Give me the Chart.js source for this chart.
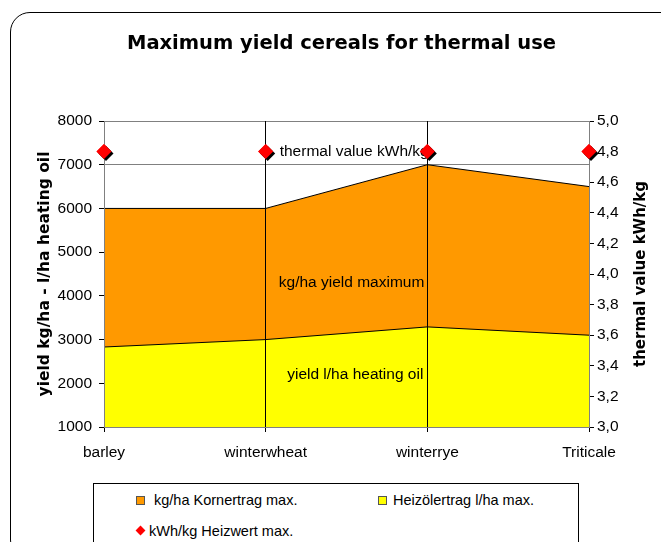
<!DOCTYPE html>
<html>
<head>
<meta charset="utf-8">
<script src="https://cdn.jsdelivr.net/npm/chart.js@4.4.1/dist/chart.umd.min.js"></script>
<style>
html,body{margin:0;padding:0;background:#fff;overflow:hidden;width:661px;height:542px;}
#wrap{position:relative;width:661px;height:542px;overflow:hidden;background:#fff;}
#c{position:absolute;left:0;top:0;z-index:1;}
#frame{position:absolute;left:10px;top:12px;width:720px;height:548px;border:1px solid #000;border-radius:20px;box-sizing:border-box;z-index:5;pointer-events:none;}
#legend{position:absolute;left:93px;top:483px;width:486px;height:70px;border:1px solid #000;box-sizing:border-box;font-family:'Liberation Sans',Arial,sans-serif;font-size:14.5px;color:#000;background:#fff;z-index:2;}
.txt{position:absolute;white-space:nowrap;line-height:18px;height:18px;}
.sw{position:absolute;width:9px;height:9px;border:1px solid #555;box-sizing:border-box;}
.dm{position:absolute;width:7px;height:7px;background:#FF0000;transform:rotate(45deg);}
</style>
</head>
<body>
<div id="wrap">
  <canvas id="c" width="661" height="542"></canvas>
  <div id="legend"></div>
  <div id="frame"></div>
</div>
<script>
// ---- data ----
const categories = ['barley', 'winterwheat', 'winterrye', 'Triticale'];
const kornertrag = [6000, 6000, 7000, 6500];      // kg/ha Kornertrag max.
const heizoel    = [2830, 3000, 3290, 3100];      // Heizölertrag l/ha max.
const heizwert   = [4.8, 4.8, 4.8, 4.8];          // kWh/kg Heizwert max.
const seriesNames = ['kg/ha Kornertrag max.', 'Heizölertrag l/ha max.', 'kWh/kg Heizwert max.'];
const rightTickLabels = ['3,0','3,2','3,4','3,6','3,8','4,0','4,2','4,4','4,6','4,8','5,0'];
const chartTitle = 'Maximum yield cereals for thermal use';
const leftTitle = 'yield kg/ha - l/ha heating oil';
const rightTitle = 'thermal value kWh/kg';
const annotations = [
  {text: 'thermal value kWh/kg', cat: 1, axis: 'y2', value: 4.8, dx: 14, align: 'left'},
  {text: 'kg/ha yield maximum', cat: 2, axis: 'y', value: 4300, dx: -3, align: 'right'},
  {text: 'yield l/ha heating oil', cat: 2, axis: 'y', value: 2200, dx: -4, align: 'right'}
];

const FONT = "'Liberation Sans', Arial, sans-serif";
const BFONT = "'DejaVu Sans', Verdana, sans-serif";
const ORANGE = '#FF9900', YELLOW = '#FFFF00', RED = '#FF0000';

const overlay = {
  id: 'overlay',
  afterDraw(chart) {
    const ctx = chart.ctx;
    const xs = chart.scales.x;
    ctx.save();
    ctx.fillStyle = '#000';
    ctx.font = '15.5px ' + FONT;
    ctx.textBaseline = 'middle';
    annotations.forEach(a => {
      ctx.textAlign = a.align;
      ctx.fillText(a.text, xs.getPixelForValue(a.cat) + a.dx, chart.scales[a.axis].getPixelForValue(a.value));
    });
    ctx.restore();
    // right axis title (reads bottom to top)
    const ca = chart.chartArea;
    const y2 = chart.scales.y2;
    ctx.save();
    ctx.translate(y2.right - 20, (ca.top + ca.bottom) / 2);
    ctx.rotate(-Math.PI / 2);
    ctx.textAlign = 'center';
    ctx.textBaseline = 'middle';
    ctx.font = 'bold 15px ' + BFONT;
    ctx.fillStyle = '#000';
    ctx.fillText(rightTitle, 0, 0);
    ctx.restore();
    // redraw diamonds on top of the grid with a shadow
    const meta = chart.getDatasetMeta(0);
    ctx.save();
    ctx.shadowColor = '#000';
    ctx.shadowOffsetX = 2;
    ctx.shadowOffsetY = 2;
    ctx.shadowBlur = 0;
    meta.controller.draw();
    ctx.restore();
  }
};

const chart = new Chart(document.getElementById('c'), {
  type: 'line',
  data: {
    labels: categories,
    datasets: [
      {label: seriesNames[2], data: heizwert, yAxisID: 'y2', showLine: false,
       pointStyle: 'rectRot', pointRadius: 7.5, pointHoverRadius: 7.5,
       backgroundColor: RED, borderColor: RED, pointBorderWidth: 0, clip: false, order: 0},
      {label: seriesNames[1], data: heizoel, yAxisID: 'y', fill: 'start',
       backgroundColor: YELLOW, borderColor: '#000', borderWidth: 1, pointRadius: 0, tension: 0, order: 1},
      {label: seriesNames[0], data: kornertrag, yAxisID: 'y', fill: 'start',
       backgroundColor: ORANGE, borderColor: '#000', borderWidth: 1, pointRadius: 0, tension: 0, order: 2}
    ]
  },
  options: {
    responsive: false,
    animation: false,
    events: [],
    layout: {padding: {left: 22, right: 0, top: 0, bottom: 75}},
    plugins: {
      legend: {display: false},
      tooltip: {enabled: false},
      title: {display: true, text: chartTitle, color: '#000',
              font: {family: BFONT, size: 19.5, weight: 'bold'},
              padding: {top: 32, bottom: 65.6}}
    },
    scales: {
      x: {
        offset: false,
        grid: {
          z: 1,
          color: c => (c.index === 0 || c.index === categories.length - 1) ? '#808080' : '#000',
          tickColor: '#000',
          tickLength: 5
        },
        border: {color: '#808080', z: 1},
        ticks: {color: '#000', font: {family: FONT, size: 15.5}, padding: 11, maxRotation: 0, autoSkip: false},
        afterFit: s => { s.height = 40; }
      },
      y: {
        position: 'left', min: 1000, max: 8000,
        ticks: {stepSize: 1000, color: '#000', font: {family: FONT, size: 15.5}, padding: 7,
                callback: v => String(v)},
        grid: {color: '#808080', tickColor: '#000', tickLength: 5},
        border: {color: '#808080'},
        title: {display: true, text: leftTitle, color: '#000',
                font: {family: BFONT, size: 15.5, weight: 'bold'}, padding: {top: 13.5, bottom: 0}},
        afterFit: s => { s.width = 82; }
      },
      y2: {
        position: 'right', min: 3, max: 5,
        ticks: {stepSize: 0.2, color: '#000', font: {family: FONT, size: 15.5}, padding: 3,
                callback: (v, i) => rightTickLabels[i]},
        grid: {drawOnChartArea: false, tickColor: '#000', tickLength: 5},
        border: {color: '#808080'},
        afterFit: s => { s.width = 72; }
      }
    }
  },
  plugins: [overlay]
});

// HTML legend built from the datasets
(function buildLegend() {
  const lg = document.getElementById('legend');
  const ds = chart.data.datasets;
  const items = [
    {name: ds[2].label, color: ds[2].backgroundColor, type: 'box', bx: 42, by: 12, tx: 60, ty: 7},
    {name: ds[1].label, color: ds[1].backgroundColor, type: 'box', bx: 284, by: 12, tx: 299, ty: 7},
    {name: ds[0].label, color: ds[0].backgroundColor, type: 'diamond', bx: 43, by: 43, tx: 55, ty: 38}
  ];
  items.forEach(it => {
    const m = document.createElement('div');
    m.className = it.type === 'box' ? 'sw' : 'dm';
    m.style.left = it.bx + 'px';
    m.style.top = it.by + 'px';
    m.style.background = it.color;
    lg.appendChild(m);
    const t = document.createElement('div');
    t.className = 'txt';
    t.style.left = it.tx + 'px';
    t.style.top = it.ty + 'px';
    t.textContent = it.name;
    lg.appendChild(t);
  });
})();
</script>
</body>
</html>
